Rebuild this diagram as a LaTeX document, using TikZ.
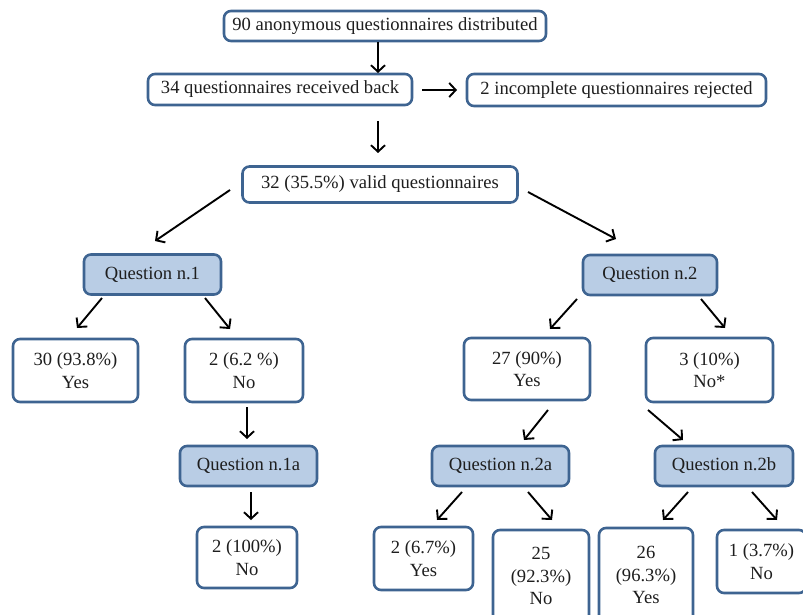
\documentclass[tikz,border=0pt]{standalone}
\usepackage{fontspec}
\setmainfont{Liberation Serif}
\usetikzlibrary{arrows.meta}
\definecolor{bdr}{HTML}{3E6491}
\definecolor{qfill}{HTML}{B9CDE5}
\definecolor{txt}{HTML}{1E1E1E}
\tikzset{
  box/.style={draw=bdr, line width=2.6pt, rounded corners=7pt, fill=white,
    text=txt, align=center, inner sep=0pt,
    font={\fontsize{18.6}{22.5}\selectfont}},
  qbox/.style={box, fill=qfill},
  arr/.style={line width=1.9pt, -{Straight Barb[length=6.5pt,width=14pt,line width=1.9pt]}}
}
\begin{document}
\begin{tikzpicture}[x=1pt,y=-1pt]
\useasboundingbox (0,0) rectangle (803,615);
\clip (0,0) rectangle (803,615);
% top
\node[box, minimum width=322pt, minimum height=30pt] (A) at (385,26) {90 anonymous questionnaires distributed};
\node[box, minimum width=264pt, minimum height=31pt] (B) at (280,89.5) {34 questionnaires received back};
\node[box, minimum width=299pt, minimum height=32pt] (C) at (616.5,90) {2 incomplete questionnaires rejected};
\node[box, minimum width=275pt, minimum height=36pt] (D) at (380,184.5) {32 (35.5\%) valid questionnaires};
% questions
\node[qbox, minimum width=137pt, minimum height=40pt] (Q1) at (152.5,274.5) {Question n.1};
\node[qbox, minimum width=134pt, minimum height=40pt] (Q2) at (650,275) {Question n.2};
\node[box, minimum width=125pt, minimum height=63pt] (Y1) at (75.5,370.5) {30 (93.8\%)\\Yes};
\node[box, minimum width=118pt, minimum height=63pt] (N1) at (244,370.5) {2 (6.2 \%)\\No};
\node[box, minimum width=126pt, minimum height=62pt] (Y2) at (527,369) {27 (90\%)\\Yes};
\node[box, minimum width=127pt, minimum height=64pt] (N2) at (709.5,370) {3 (10\%)\\No*};
\node[qbox, minimum width=137pt, minimum height=40pt] (Q1a) at (248.5,466) {Question n.1a};
\node[qbox, minimum width=137pt, minimum height=40pt] (Q2a) at (500.5,466) {Question n.2a};
\node[qbox, minimum width=138pt, minimum height=40pt] (Q2b) at (724,466) {Question n.2b};
\node[box, minimum width=100pt, minimum height=61pt] (R1a) at (247,557.5) {2 (100\%)\\No};
\node[box, minimum width=99pt, minimum height=63pt] (Y2a) at (423.5,558.5) {2 (6.7\%)\\Yes};
\node[box, minimum width=96pt, minimum height=92pt] (N2a) at (541,576) {25\\(92.3\%)\\No};
\node[box, minimum width=94pt, minimum height=94pt] (Y2b) at (646,575) {26\\(96.3\%)\\Yes};
\node[box, minimum width=89pt, minimum height=63pt] (N2b) at (761.5,561.5) {1 (3.7\%)\\No};
% connectors
\draw[arr] ([shift={(-7,16)}]A.center) -- ([shift={(98,-16.5)}]B.center);
\draw[arr] ([shift={(142,0.5)}]B.center) -- ([shift={(-159.5,0)}]C.center);
\draw[arr] ([shift={(98,31.5)}]B.center) -- ([shift={(-2,-31.5)}]D.center);
\draw[arr] ([shift={(-150,5.5)}]D.center) -- ([shift={(2.5,-33.5)}]Q1.center);
\draw[arr] ([shift={(148,7.5)}]D.center) -- ([shift={(-34,-36)}]Q2.center);
\draw[arr] ([shift={(-50.5,23.5)}]Q1.center) -- ([shift={(1.5,-42.5)}]Y1.center);
\draw[arr] ([shift={(52.5,23.5)}]Q1.center) -- ([shift={(-14,-41.5)}]N1.center);
\draw[arr] ([shift={(3,36.5)}]N1.center) -- ([shift={(-1.5,-27)}]Q1a.center);
\draw[arr] ([shift={(2.5,26)}]Q1a.center) -- ([shift={(4,-37.5)}]R1a.center);
\draw[arr] ([shift={(-73,24)}]Q2.center) -- ([shift={(23,-40)}]Y2.center);
\draw[arr] ([shift={(51,24)}]Q2.center) -- ([shift={(15.5,-42)}]N2.center);
\draw[arr] ([shift={(21,41)}]Y2.center) -- ([shift={(23.5,-26)}]Q2a.center);
\draw[arr] ([shift={(-61.5,40)}]N2.center) -- ([shift={(-41,-26)}]Q2b.center);
\draw[arr] ([shift={(-38.5,26)}]Q2a.center) -- ([shift={(13.5,-38.5)}]Y2a.center);
\draw[arr] ([shift={(27.5,26)}]Q2a.center) -- ([shift={(11,-56)}]N2a.center);
\draw[arr] ([shift={(-36,26)}]Q2b.center) -- ([shift={(17,-55)}]Y2b.center);
\draw[arr] ([shift={(28,26)}]Q2b.center) -- ([shift={(15.5,-41.5)}]N2b.center);
\end{tikzpicture}
\end{document}
